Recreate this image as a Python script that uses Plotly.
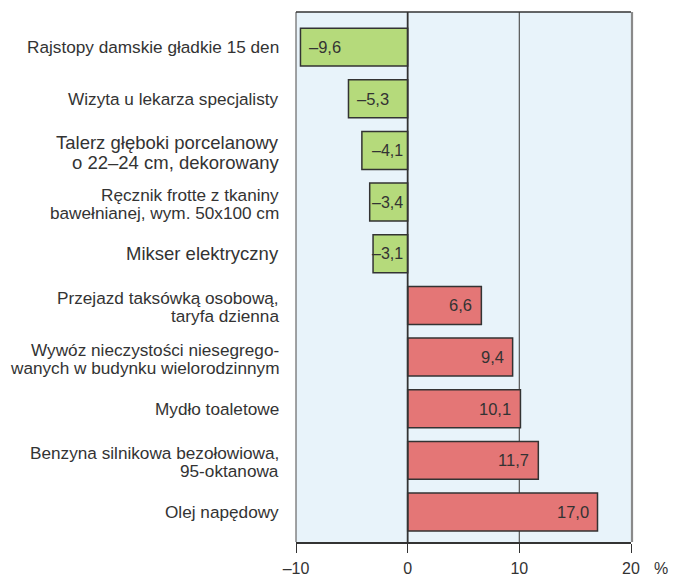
import plotly.graph_objects as go

label_lines = [
    ["Rajstopy damskie gładkie 15 den"],
    ["Wizyta u lekarza specjalisty"],
    ["Talerz głęboki porcelanowy", "o 22–24 cm, dekorowany"],
    ["Ręcznik frotte z tkaniny", "bawełnianej, wym. 50x100 cm"],
    ["Mikser elektryczny"],
    ["Przejazd taksówką osobową,", "taryfa dzienna"],
    ["Wywóz nieczystości niesegrego-", "wanych w budynku wielorodzinnym"],
    ["Mydło toaletowe"],
    ["Benzyna silnikowa bezołowiowa,", "95-oktanowa"],
    ["Olej napędowy"],
]
label_sizes = [17.2, 17.2, 18.5, 17.2, 18.5, 17.2, 17.2, 17.2, 17.2, 17.2]
values = [-9.6, -5.3, -4.1, -3.4, -3.1, 6.6, 9.4, 10.1, 11.7, 17.0]
tick_vals = [-10, 0, 10, 20]
tick_text = ["–10", "0", "10", "20"]

FONT = "Liberation Sans, Arial, Helvetica, sans-serif"
TXT = "#333333"

def fmt(v):
    s = f"{abs(v):.1f}".replace(".", ",")
    return ("–" + s) if v < 0 else s

colors = ["#b5da7b" if v < 0 else "#e47676" for v in values]
ypos = list(range(len(values)))

fig = go.Figure()
fig.add_trace(go.Bar(
    x=values, y=ypos, orientation="h",
    marker=dict(color=colors, line=dict(color="#333333", width=1.5)),
    width=0.735, hoverinfo="x",
))

annotations = []
for i, (lines, fs) in enumerate(zip(label_lines, label_sizes)):
    n = len(lines)
    spacing = fs * 1.05
    for j, line in enumerate(lines):
        off = (j - (n - 1) / 2) * spacing
        annotations.append(dict(
            text=line, xref="paper", yref="y", x=0, y=i,
            xanchor="right", yanchor="middle", xshift=-15,
            yshift=-off - (2 if n > 1 else 0),
            showarrow=False, font=dict(family=FONT, size=fs, color=TXT),
        ))
for i, v in enumerate(values):
    if v < 0 and abs(v) < 4.5:
        # short bar: label right-aligned just left of the zero line
        ann = dict(x=0, xanchor="right", xshift=-3)
        fs = 16
    elif v < 0:
        ann = dict(x=v, xanchor="left", xshift=7)
        fs = 16.5
    else:
        ann = dict(x=v, xanchor="right", xshift=-7)
        fs = 16.5
    annotations.append(dict(
        text=fmt(v), xref="x", yref="y", y=i, yanchor="middle",
        showarrow=False, font=dict(family=FONT, size=fs, color=TXT), **ann,
    ))
annotations.append(dict(
    text="%", xref="paper", yref="paper", x=1.0, y=0, xshift=30, yshift=-26,
    showarrow=False, font=dict(family=FONT, size=16, color=TXT),
    xanchor="center", yanchor="middle",
))

fig.update_layout(
    width=675, height=576,
    margin=dict(l=296, r=44, t=12, b=34, autoexpand=False),
    paper_bgcolor="white",
    plot_bgcolor="#e8f3fa",
    showlegend=False,
    font=dict(family=FONT, size=15, color=TXT),
    xaxis=dict(
        range=[-10, 20], tickvals=tick_vals, ticktext=tick_text,
        ticks="outside", ticklen=9, tickcolor="#333333", tickwidth=1.2,
        showgrid=False, zeroline=False, automargin=False,
        showline=True, linecolor="#333333", linewidth=1.5,
        tickfont=dict(family=FONT, size=16, color=TXT), ticklabelstandoff=2,
    ),
    yaxis=dict(
        range=[9.58, -0.68], tickvals=ypos, showticklabels=False,
        showgrid=False, zeroline=False, showline=False, ticks="",
        automargin=False,
    ),
    shapes=[
        dict(type="line", xref="x", yref="paper", x0=10, x1=10, y0=0, y1=1,
             line=dict(color="#555555", width=1.2), layer="below"),
        dict(type="line", xref="x", yref="paper", x0=0, x1=0, y0=0, y1=1,
             line=dict(color="#333333", width=1.8), layer="above"),
        dict(type="line", xref="paper", yref="paper", x0=0, x1=0, y0=0, y1=1,
             line=dict(color="#666666", width=1.2)),
        dict(type="line", xref="paper", yref="paper", x0=0, x1=1, y0=1, y1=1,
             line=dict(color="#333333", width=1.5)),
        dict(type="line", xref="paper", yref="paper", x0=1.003, x1=1.003, y0=0, y1=1,
             line=dict(color="#8a8a8a", width=2.2)),
    ],
    annotations=annotations,
)

fig.write_html("out.html", config={"displayModeBar": False},
               post_script="document.body.style.margin='0';document.body.style.padding='0';")
